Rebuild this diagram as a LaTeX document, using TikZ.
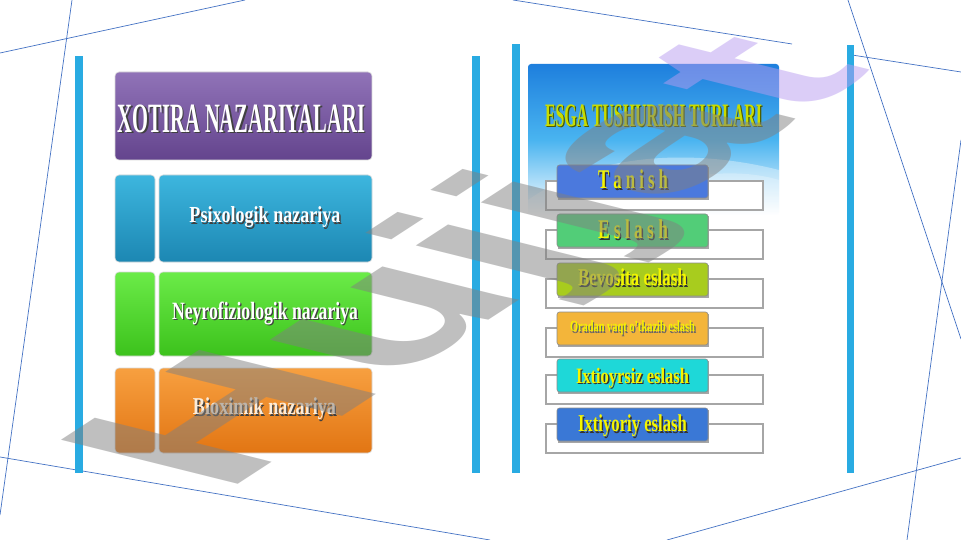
\documentclass[tikz,border=0pt]{standalone}
\usepackage{fontspec}
\setmainfont{Liberation Serif}
\newfontfamily\wmfont{Liberation Sans}
\usetikzlibrary{calc}
\definecolor{barblue}{HTML}{29ABE2}
\definecolor{lineblue}{HTML}{4472C4}
\definecolor{purp}{HTML}{7550A6}
\definecolor{yel}{HTML}{F5F500}
\definecolor{ttl}{HTML}{C8DC00}
\definecolor{ttlsh}{HTML}{4A5A00}
\definecolor{bluetop}{HTML}{3DB6DE}
\definecolor{bluebot}{HTML}{1C87B3}
\definecolor{greentop}{HTML}{6BEB48}
\definecolor{greenbot}{HTML}{3CC21C}
\definecolor{orangetop}{HTML}{F7A040}
\definecolor{orangebot}{HTML}{E27513}
\definecolor{beige}{HTML}{FBEBD8}
\definecolor{skytop}{HTML}{1E7FDD}
\definecolor{skymid}{HTML}{49B4F0}
\definecolor{lavender}{HTML}{B89CF0}
\definecolor{rowa}{HTML}{4B79DD}
\definecolor{rowb}{HTML}{52CD78}
\definecolor{rowc}{HTML}{A8CC1E}
\definecolor{rowd}{HTML}{F3B53A}
\definecolor{rowe}{HTML}{1ED8D8}
\definecolor{rowf}{HTML}{3A78D6}
\newcommand{\stxt}[7]{%
  \node[inner sep=0, text=#6] at ($(#2)+(1.3,1.3)$) {\resizebox*{#3pt}{#4pt}{\bfseries #7}};
  \node[inner sep=0, text=#5] (#1) at (#2) {\resizebox*{#3pt}{#4pt}{\bfseries #7}};}
\tikzset{
  thinln/.style={draw=lineblue, line width=0.7pt},
  vbar/.style={fill=barblue},
  lbox/.style={rounded corners=4pt, draw=white!85!black, line width=0.6pt},
  rowrect/.style={fill=white, draw=black!35, line width=1.1pt},
  lab/.style={rounded corners=2.5pt, draw=black!45, line width=0.6pt},
}
\begin{document}
\begin{tikzpicture}[x=1pt,y=-1pt]
\useasboundingbox (0,0) rectangle (961,540);
\fill[white] (0,0) rectangle (961,540);
% thin background lines
\draw[thinln] (0,53) -- (245,0);
\draw[thinln] (72,0) -- (0,515);
\draw[thinln] (0,457) -- (490,540);
\draw[thinln] (513,0) -- (792,44);
\draw[thinln] (848,0) -- (961,339);
\draw[thinln] (852,55) -- (961,72);
\draw[thinln] (961,140) -- (907,540);
\draw[thinln] (667,540) -- (961,458);
% vertical bars
\fill[vbar] (75,56) rectangle (83,473);
\fill[vbar] (472,56) rectangle (480,473);
\fill[vbar] (512,44) rectangle (520,473);
\fill[vbar] (847,45) rectangle (854,473);
% ---------- left panel ----------
\shade[lbox, top color=purp!80!white, bottom color=purp!85!black] (115,72) rectangle (372,160);
\coordinate (c0) at (241.5,119);
\stxt{t0}{c0}{247}{28}{white}{black!75}{XOTIRA NAZARIYALARI}
\shade[lbox, top color=bluetop, bottom color=bluebot] (115,175) rectangle (155,262);
\shade[lbox, top color=bluetop, bottom color=bluebot] (159,175) rectangle (372,262);
\coordinate (c1) at (265,217.5);
\stxt{t1}{c1}{151}{21}{white}{black!75}{Psixologik nazariya}
\shade[lbox, top color=greentop, bottom color=greenbot] (115,272) rectangle (155,356);
\shade[lbox, top color=greentop, bottom color=greenbot] (159,272) rectangle (372,356);
\coordinate (c2) at (265,313.5);
\stxt{t2}{c2}{186}{23}{white}{black!75}{Neyrofiziologik nazariya}
\shade[lbox, top color=orangetop, bottom color=orangebot] (115,368) rectangle (155,453);
\shade[lbox, top color=orangetop, bottom color=orangebot] (159,368) rectangle (372,453);
\coordinate (c3) at (264.5,409);
\stxt{t3}{c3}{143}{22}{beige}{black!75}{Bioximik nazariya}
% ---------- right panel ----------
\shade[rounded corners=3pt, top color=skytop, bottom color=white, middle color=skymid] (528,64) rectangle (779,215);
\fill[white, opacity=0.35] (528,200) .. controls (600,150) and (700,150) .. (779,170) -- (779,215) -- (528,215) -- cycle;
\fill[white, opacity=0.25] (600,215) .. controls (650,175) and (730,165) .. (779,180) -- (779,215) -- cycle;
\coordinate (ct) at (653.5,116);
\stxt{tt}{ct}{217}{22}{ttl}{ttlsh}{ESGA TUSHURISH TURLARI}
% rows
\foreach \y/\col in {165/rowa, 214/rowb, 263/rowc, 312/rowd, 359/rowe, 408/rowf}{
  \fill[rowrect] (546,\y+16) rectangle (763,\y+45);
  \fill[black!35] (558,\y+2) rectangle (709,\y+35);
  \fill[lab, fill=\col] (557,\y) rectangle (708,\y+33);
}
\coordinate (r1) at (633,179.5);
\stxt{l1}{r1}{70}{19}{yel}{black!80}{T a n i s h}
\coordinate (r2) at (633,229.5);
\stxt{l2}{r2}{70}{19}{yel}{black!80}{E s l a s h}
\coordinate (r3) at (632.5,277.5);
\stxt{l3}{r3}{109}{17}{yel}{black!80}{Bevosita eslash}
\coordinate (r4) at (632.5,328);
\stxt{l4}{r4}{125}{14}{yel}{black!60}{Oradan vaqt o'tkazib eslash}
\coordinate (r5) at (632.5,378);
\stxt{l5}{r5}{113}{20}{yel}{black!80}{Ixtioyrsiz eslash}
\coordinate (r6) at (632.5,426);
\stxt{l6}{r6}{109}{22}{yel}{black!80}{Ixtiyoriy eslash}
% ---------- watermark ----------
\begin{scope}[shift={(482,265)}]
\node[cm={2.35,1.53,-2.57,0.64,(0,0)}, opacity=0.5, inner sep=0,
      font=\wmfont\bfseries\fontsize{100}{100}\selectfont] (wm) at (0,0)
      {\textcolor{black!50}{Hujja}\textcolor{lavender}{t}};
\end{scope}
\end{tikzpicture}
\end{document}
